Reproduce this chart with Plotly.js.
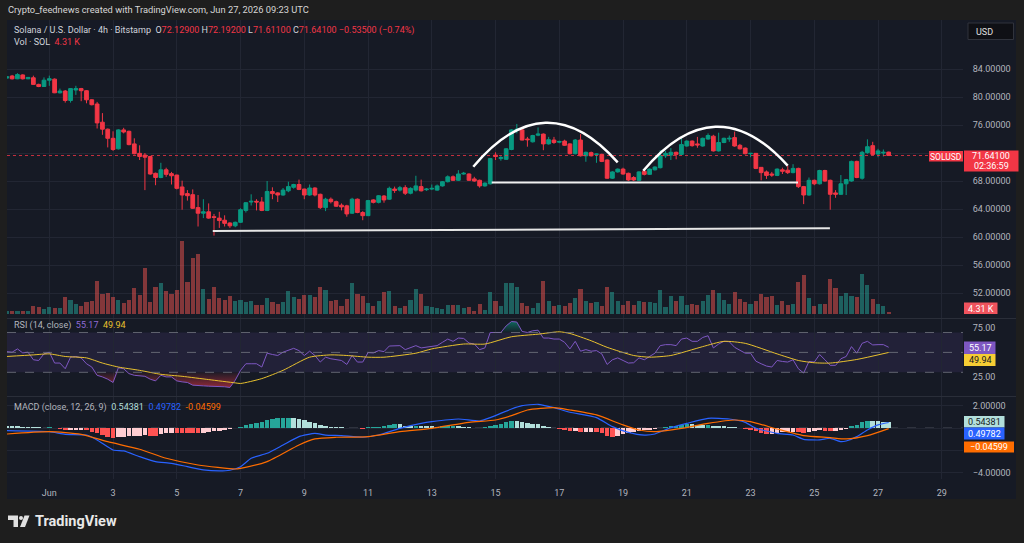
<!DOCTYPE html>
<html>
<head>
<meta charset="utf-8">
<script src="https://cdn.plot.ly/plotly-3.0.1.min.js"></script>
<style>
  html, body { margin: 0; padding: 0; background: #1e1e1e; }
  #chart { width: 1024px; height: 543px; }
</style>
</head>
<body>
<div id="chart"></div>
<script>
// ---- SOLUSD 4h, Bitstamp ------------------------------------------------
const firstBar = '2026-05-30T16:00:00Z';   // open time of the first 4h bar
const barHours = 4;

const opens = [
  82.7, 83.0, 82.6, 83.15, 82.6, 82.75, 81.8, 81.5, 82.4, 82.55,
  80.6, 80.85, 79.5, 81.0, 81.2, 80.9, 79.6, 79.0, 76.4, 75.4,
  74.1, 72.6, 75.3, 75.1, 73.3, 71.95, 71.7, 71.5, 69.1, 68.5,
  69.6, 69.05, 68.85, 67.15, 66.2, 66.05, 64.2, 63.4, 63.6, 62.9,
  62.7, 62.4, 62.0, 61.6, 62.1, 63.8, 65.0, 65.1, 65.0, 63.8,
  66.5, 66.3, 66.0, 66.6, 67.1, 67.5, 66.85, 66.0, 67.0, 66.1,
  64.2, 65.4, 65.05, 64.55, 64.45, 63.4, 65.4, 63.5, 63.05, 65.3,
  64.95, 65.85, 65.4, 66.85, 66.7, 67.05, 66.25, 66.7, 67.2, 66.75,
  66.85, 66.7, 67.3, 67.9, 68.6, 68.1, 69.0, 69.0, 68.3, 68.1,
  67.3, 67.6, 71.7, 71.2, 71.1, 72.5, 75.2, 75.3, 74.0, 73.6,
  74.55, 74.7, 73.3, 73.85, 73.55, 73.7, 73.3, 71.9, 73.85, 71.6,
  72.05, 71.8, 71.8, 71.0, 68.4, 69.3, 69.7, 69.1, 68.5, 68.1,
  69.4, 68.95, 69.6, 69.9, 71.6, 71.7, 72.1, 71.8, 73.0, 73.7,
  73.3, 73.0, 74.0, 74.4, 72.3, 73.5, 74.0, 74.2, 73.1, 72.7,
  71.9, 71.95, 69.95, 69.3, 69.0, 68.8, 69.6, 69.55, 69.2, 69.8,
  67.2, 66.0, 68.1, 67.6, 69.5, 68.1, 66.3, 66.1, 67.6, 68.0,
  70.8, 68.4, 72.05, 73.05, 71.85, 72.0, 72.129
];
const highs = [
  82.95, 83.15, 83.4, 83.25, 82.85, 83.05, 81.9, 82.8, 83.05, 82.65,
  81.2, 81.0, 81.25, 81.6, 81.3, 81.0, 79.7, 79.3, 77.7, 75.5,
  75.1, 75.4, 75.6, 75.2, 74.1, 73.1, 72.0, 71.6, 69.2, 70.6,
  69.9, 69.3, 68.9, 68.05, 66.7, 66.8, 66.0, 65.4, 64.8, 63.3,
  63.6, 63.1, 62.1, 62.2, 64.1, 65.0, 66.1, 65.4, 65.7, 68.0,
  67.1, 66.4, 67.0, 67.9, 67.6, 68.2, 66.9, 67.5, 67.1, 66.2,
  65.6, 65.65, 65.2, 64.8, 64.6, 65.6, 65.5, 63.7, 65.3, 65.4,
  66.0, 66.0, 67.2, 67.2, 67.3, 67.4, 67.1, 68.75, 68.2, 67.0,
  67.5, 67.5, 68.0, 68.8, 68.8, 69.55, 69.3, 69.1, 68.6, 68.2,
  67.8, 71.3, 72.1, 71.6, 72.7, 75.4, 76.15, 75.5, 74.3, 74.6,
  75.65, 74.8, 74.3, 74.3, 73.75, 73.9, 73.4, 74.0, 74.7, 72.2,
  72.2, 71.9, 71.9, 71.1, 69.4, 69.8, 69.9, 69.2, 68.7, 69.4,
  69.6, 69.8, 70.1, 72.4, 72.3, 72.7, 72.2, 74.1, 73.8, 73.8,
  74.3, 74.2, 74.8, 74.6, 74.9, 74.2, 74.5, 75.05, 73.3, 72.8,
  72.0, 72.0, 70.0, 69.5, 69.3, 69.8, 69.9, 70.2, 70.4, 69.9,
  67.3, 68.5, 68.2, 69.6, 69.6, 68.2, 66.7, 68.85, 68.3, 70.9,
  70.9, 72.3, 73.95, 73.6, 72.6, 72.5, 72.192
];
const lows = [
  82.6, 82.5, 82.55, 82.5, 82.55, 81.75, 81.4, 81.45, 81.6, 80.55,
  80.5, 79.2, 79.2, 80.3, 79.4, 79.1, 78.8, 75.5, 74.6, 72.8,
  72.3, 72.5, 74.8, 73.1, 71.8, 71.0, 66.7, 68.9, 67.4, 68.4,
  68.6, 67.5, 66.8, 63.9, 65.2, 64.0, 61.5, 62.7, 62.6, 60.2,
  61.3, 61.5, 61.3, 61.4, 62.0, 63.5, 64.5, 63.8, 63.7, 63.7,
  65.4, 65.0, 65.9, 66.4, 66.9, 66.7, 65.4, 65.9, 65.8, 64.0,
  63.7, 64.8, 64.3, 63.8, 62.9, 63.3, 63.4, 62.4, 63.0, 64.8,
  64.8, 64.9, 65.3, 66.3, 66.5, 66.0, 66.1, 66.5, 66.5, 66.6,
  66.7, 66.6, 67.2, 67.8, 68.0, 68.0, 68.9, 68.0, 67.9, 67.05,
  67.2, 67.5, 71.0, 70.9, 71.0, 72.4, 74.8, 73.8, 72.9, 73.5,
  74.4, 72.4, 73.2, 73.3, 73.4, 73.0, 71.8, 71.8, 71.5, 70.75,
  71.5, 70.6, 70.7, 68.3, 68.3, 69.2, 68.9, 68.0, 68.0, 68.0,
  68.8, 68.9, 69.5, 69.8, 71.3, 71.0, 71.1, 71.7, 72.9, 72.9,
  72.75, 72.9, 73.9, 72.2, 72.2, 73.4, 73.6, 72.9, 72.5, 71.8,
  71.4, 69.7, 68.1, 68.3, 68.6, 68.7, 69.0, 69.0, 69.1, 67.0,
  64.7, 65.9, 67.4, 67.5, 67.9, 63.9, 65.6, 66.0, 66.0, 67.9,
  68.4, 68.2, 71.9, 71.7, 71.4, 71.5, 71.611
];
const closes = [
  82.9, 82.6, 83.2, 82.6, 82.8, 81.8, 81.5, 82.4, 82.6, 80.6,
  80.85, 79.5, 81.2, 81.2, 80.9, 79.6, 78.9, 76.3, 75.4, 74.1,
  72.5, 75.3, 75.0, 73.2, 71.9, 71.5, 71.4, 69.0, 68.5, 69.6,
  68.95, 68.75, 66.95, 66.0, 65.9, 64.1, 63.4, 63.6, 62.7, 62.8,
  62.35, 61.95, 61.6, 62.1, 63.9, 64.9, 65.1, 65.0, 63.8, 66.5,
  66.2, 66.0, 66.7, 67.2, 67.5, 66.8, 66.0, 67.0, 66.0, 64.2,
  65.4, 65.05, 64.4, 64.3, 63.3, 65.4, 63.5, 63.05, 65.2, 64.95,
  65.9, 65.3, 66.95, 66.65, 67.05, 66.25, 66.95, 67.3, 66.6, 66.85,
  66.95, 67.3, 67.9, 68.6, 68.1, 69.0, 69.1, 68.1, 68.0, 67.3,
  67.7, 71.2, 71.5, 71.35, 72.6, 75.3, 75.4, 73.85, 73.9, 74.5,
  74.7, 73.3, 73.9, 73.5, 73.65, 73.1, 71.9, 73.85, 71.6, 72.1,
  71.6, 71.85, 70.8, 68.4, 69.3, 69.7, 69.0, 68.15, 68.15, 69.3,
  68.95, 69.7, 70.0, 71.6, 71.95, 72.1, 71.8, 73.2, 73.7, 73.05,
  73.15, 74.1, 74.5, 72.3, 73.5, 74.1, 74.1, 73.0, 72.6, 71.9,
  71.95, 69.8, 69.2, 68.8, 68.85, 69.7, 69.4, 69.2, 69.8, 67.2,
  66.0, 68.1, 67.6, 69.5, 68.0, 66.1, 66.1, 67.6, 68.2, 70.8,
  68.5, 72.1, 72.9, 71.8, 72.3, 72.1, 71.641
];
// volume in thousands of SOL
const volumesK = [
  6.5, 6.5, 6.5, 6.5, 6.5, 17.3, 14.4, 10.1, 14.4, 13.0,
  13.0, 36.7, 30.2, 20.9, 17.3, 25.9, 27.4, 70.6, 43.9, 45.4,
  36.0, 30.2, 24.5, 30.2, 56.2, 41.0, 99.4, 25.9, 59.0, 67.7,
  49.7, 43.9, 51.1, 158.4, 69.1, 121.7, 128.9, 54.7, 32.4, 57.6,
  33.8, 30.2, 38.2, 27.4, 30.2, 25.9, 27.4, 19.4, 19.4, 35.3,
  25.9, 21.6, 25.9, 49.7, 36.7, 31.7, 41.0, 41.0, 36.7, 57.6,
  51.1, 28.8, 30.2, 16.6, 31.7, 67.7, 42.5, 39.6, 24.5, 17.3,
  27.4, 46.8, 49.7, 17.3, 13.0, 16.6, 30.2, 54.7, 43.9, 17.3,
  14.4, 12.2, 10.8, 20.2, 20.2, 20.2, 12.2, 14.4, 6.5, 21.6,
  9.4, 46.8, 27.4, 16.6, 66.2, 66.2, 59.0, 23.0, 17.3, 13.0,
  23.0, 70.6, 28.8, 16.6, 18.7, 16.6, 23.0, 34.6, 53.3, 28.8,
  24.5, 25.9, 17.3, 59.0, 46.8, 28.8, 20.2, 28.8, 20.2, 28.8,
  25.9, 25.9, 24.5, 51.8, 15.8, 38.9, 27.4, 38.9, 20.2, 21.6,
  18.7, 27.4, 41.0, 51.1, 44.6, 30.2, 21.6, 46.8, 31.7, 25.9,
  21.6, 28.8, 42.5, 36.7, 39.6, 18.7, 27.4, 20.2, 21.6, 69.1,
  84.2, 33.8, 17.3, 21.6, 21.6, 74.9, 55.4, 39.6, 45.4, 38.2,
  36.0, 87.1, 61.9, 33.1, 21.6, 16.6, 4.31
];
// RSI(14) per bar
const rsi = [
  50.8, 50.2, 53.5, 49.5, 50.2, 42.6, 41.9, 48.5, 50.2, 39.3,
  39.3, 33.6, 45.2, 45.9, 44.5, 38.6, 35.3, 27.0, 25.4, 23.1,
  19.8, 34.6, 33.6, 28.7, 27.0, 26.4, 26.0, 23.1, 21.4, 27.0,
  25.4, 25.4, 21.4, 20.4, 19.8, 17.1, 16.4, 16.4, 16.1, 16.1,
  15.8, 15.5, 14.8, 22.1, 32.0, 38.6, 38.6, 38.6, 35.3, 49.2,
  47.9, 46.9, 50.2, 52.5, 54.1, 51.8, 46.9, 51.2, 46.9, 40.3,
  45.2, 43.6, 42.6, 41.9, 37.9, 46.9, 40.3, 40.3, 49.8, 49.5,
  51.8, 50.8, 56.4, 56.4, 56.8, 52.8, 55.1, 56.8, 54.5, 55.1,
  55.8, 56.8, 60.1, 63.4, 61.1, 64.4, 64.0, 59.4, 58.4, 52.8,
  54.5, 70.0, 70.0, 70.0, 76.6, 81.0, 80.5, 71.0, 70.0, 71.7,
  72.3, 64.4, 64.4, 63.4, 63.4, 60.1, 53.5, 61.1, 51.2, 52.8,
  51.2, 51.8, 48.5, 37.9, 42.6, 44.5, 41.9, 39.3, 39.6, 44.5,
  42.6, 45.9, 49.2, 56.8, 57.8, 57.8, 56.8, 63.4, 64.4, 61.1,
  61.1, 65.0, 66.7, 54.5, 58.4, 61.1, 60.7, 55.1, 52.5, 49.2,
  49.2, 41.2, 38.6, 36.3, 35.3, 41.9, 40.9, 40.3, 42.6, 33.6,
  29.3, 40.9, 40.3, 47.9, 42.6, 37.0, 37.0, 43.6, 45.9, 55.8,
  49.2, 59.1, 61.1, 57.5, 57.8, 57.8, 55.17
];
// RSI-based moving average, read at these bar indices
const rsiMaBar = [0, 5, 8, 11, 15, 18, 21, 25, 29, 33, 38, 43, 44, 48, 52, 57, 61, 64, 68, 71,
  77, 80, 86, 90, 95, 100, 104, 106, 110, 113, 118, 121, 125, 131, 135, 139, 145, 149, 152, 155, 160, 166];
const rsiMa = [45.9, 47.5, 48.5, 45.9, 44.5, 39.3, 35.3, 32.0, 28.0, 26.0, 22.7, 19.4, 18.8, 23.7, 32.0, 45.2, 47.5, 46.9, 45.2, 45.2,
  49.2, 53.5, 58.4, 58.4, 65.7, 68.3, 70.7, 69.0, 61.7, 55.1, 46.9, 45.2, 46.9, 55.8, 61.1, 59.1, 48.5, 41.9, 39.6, 39.3, 42.9, 49.94];
// MACD(12, 26, 9)
const macdBar = [0, 8, 11, 15, 17, 20, 22, 25, 28, 31, 34, 37, 40, 42, 44, 46, 49, 52, 55, 58,
  60, 63, 67, 70, 74, 78, 80, 85, 89, 91, 95, 97, 100, 103, 106, 111, 114, 117, 120, 122,
  125, 128, 132, 136, 139, 141, 145, 148, 150, 153, 155, 157, 158, 160, 162, 164, 166];
const macd = [-0.23, -0.32, -0.56, -0.62, -1.06, -1.95, -2.04, -2.55, -2.99, -3.14, -3.44, -3.73, -3.82, -3.76, -3.44, -2.69, -2.25, -1.51, -0.76, -0.47,
  -0.62, -0.67, -0.82, -0.62, -0.02, 0.42, 0.57, 0.81, 0.63, 0.93, 1.70, 2.0, 2.12, 1.82, 1.41, 0.93, 0.13, -0.38, -0.62, -0.53,
  0.04, 0.42, 0.87, 0.81, 0.51, -0.02, -0.47, -0.62, -1.0, -1.06, -0.91, -1.21, -1.15, -0.76, -0.17, 0.28, 0.49782];
const signalBar = [0, 8, 14, 19, 25, 30, 36, 43, 44, 49, 55, 58, 62, 68, 74, 80, 87, 92, 95, 98,
  103, 106, 111, 116, 119, 122, 127, 132, 137, 140, 145, 150, 155, 158, 162, 166];
const signal = [-0.53, -0.32, -0.56, -1.21, -1.89, -2.69, -3.29, -3.65, -3.59, -2.99, -1.51, -0.97, -0.82, -0.76, -0.32, -0.02, 0.51, 0.72, 1.11, 1.61,
  1.82, 1.61, 1.17, 0.28, -0.17, -0.32, -0.02, 0.42, 0.72, 0.57, -0.08, -0.67, -0.85, -0.97, -0.67, -0.04599];
const hist = [
  0.22, 0.19, 0.16, 0.13, 0.10, 0.07, 0.07, 0.04, 0.07, -0.02,
  -0.11, -0.20, -0.17, -0.14, -0.14, -0.20, -0.32, -0.47, -0.61, -0.77,
  -0.85, -0.77, -0.77, -0.74, -0.70, -0.67, -0.64, -0.70, -0.71, -0.56,
  -0.47, -0.41, -0.42, -0.44, -0.45, -0.46, -0.47, -0.40, -0.33, -0.27,
  -0.23, -0.17, -0.11, -0.02, 0.13, 0.31, 0.40, 0.46, 0.52, 0.72,
  0.81, 0.87, 0.88, 0.90, 0.87, 0.81, 0.72, 0.57, 0.42, 0.28,
  0.19, 0.13, 0.10, 0.07, -0.02, 0.01, -0.03, -0.05, 0.07, 0.10,
  0.13, 0.16, 0.28, 0.34, 0.34, 0.22, 0.19, 0.22, 0.19, 0.19,
  0.16, 0.13, 0.16, 0.19, 0.22, 0.16, 0.13, 0.07, 0.04, -0.02,
  0.13, 0.22, 0.25, 0.34, 0.52, 0.63, 0.63, 0.57, 0.45, 0.40,
  0.34, 0.22, 0.10, 0.04, -0.08, -0.14, -0.23, -0.23, -0.32, -0.32,
  -0.32, -0.38, -0.47, -0.73, -0.77, -0.67, -0.56, -0.47, -0.35, -0.26,
  -0.20, -0.17, -0.11, -0.02, 0.10, 0.19, 0.22, 0.31, 0.37, 0.34,
  0.28, 0.28, 0.31, 0.22, 0.19, 0.19, 0.13, 0.07, -0.02, -0.08,
  -0.20, -0.26, -0.47, -0.56, -0.56, -0.47, -0.38, -0.38, -0.32, -0.38,
  -0.41, -0.32, -0.23, -0.20, -0.26, -0.29, -0.26, -0.20, -0.11, 0.22,
  0.28, 0.52, 0.63, 0.63, 0.60, 0.57, 0.54381
];
const dateTicks = ['2026-06-01', '2026-06-03', '2026-06-05', '2026-06-07', '2026-06-09', '2026-06-11', '2026-06-13',
  '2026-06-15', '2026-06-17', '2026-06-19', '2026-06-21', '2026-06-23', '2026-06-25', '2026-06-27', '2026-06-29'];
const dateLabels = ['Jun', '3', '5', '7', '9', '11', '13', '15', '17', '19', '21', '23', '25', '27', '29'];
const priceTicks = [52, 56, 60, 64, 68, 72, 76, 80, 84];
const macdTicks = [2, 0, -2, -4];

// hand-drawn pattern: support, neckline and the two rounded tops
const supportLine = { t0: '2026-06-06 03:05', p0: 60.86, t1: '2026-06-25 11:46', p1: 61.24 };
const neckLine = { t0: '2026-06-14 21:07', p0: 67.78, t1: '2026-06-24 11:44', p1: 67.8 };
const arcs = [
  [['2026-06-14T07:15:00Z', 70.04], ['2026-06-16T13:36:00Z', 82.3], ['2026-06-18T19:58:00Z', 70.67]],
  [['2026-06-19T15:14:00Z', 69.47], ['2026-06-21T21:36:00Z', 81.69], ['2026-06-24T03:58:00Z', 70.19]]
];

// ---- styling ----
const FONT = 'Roboto, "Noto Sans", "DejaVu Sans", sans-serif';
const FRAME = '#1e1e1e', PANEL = '#161a25', GRID = '#222633', SEP = '#2a2e39';
const TXT = '#d1d4dc', AXT = '#b2b5be';
const UP = '#089981', DOWN = '#f23645';
const W = 1024, H = 543;
const px = x => x / W;
const py = y => 1 - y / H;

const STEP = barHours * 3600 * 1000;
const t0ms = Date.parse(firstBar);
const fmt = ms => new Date(ms).toISOString().slice(0, 19).replace('T', ' ');
const times = opens.map((_, i) => fmt(t0ms + i * STEP));
const atBars = idx => idx.map(i => times[i]);

const volColors = closes.map((c, i) => c >= opens[i] ? 'rgba(38,166,154,0.5)' : 'rgba(239,83,80,0.5)');
const histColors = hist.map((v, i) => {
  const p = i ? hist[i - 1] : v;
  if (v >= 0) return v > p ? '#26a69a' : '#b2dfdb';
  return v < p ? '#ff5252' : '#ffcdd2';
});

const traces = [
  { type: 'bar', x: times, y: volumesK, xaxis: 'x', yaxis: 'y2', width: STEP * 0.78,
    marker: { color: volColors, line: { width: 0 } }, hoverinfo: 'skip' },
  { type: 'candlestick', x: times, open: opens, high: highs, low: lows, close: closes,
    xaxis: 'x', yaxis: 'y', hoverinfo: 'skip', whiskerwidth: 0,
    increasing: { line: { color: UP, width: 1 }, fillcolor: UP },
    decreasing: { line: { color: DOWN, width: 1 }, fillcolor: DOWN } },
  // RSI oversold shading
  { type: 'scatter', mode: 'lines', x: times, y: rsi.map(() => 30), xaxis: 'x', yaxis: 'y3',
    line: { width: 0 }, hoverinfo: 'skip' },
  { type: 'scatter', mode: 'lines', x: times, y: rsi.map(v => Math.min(v, 30)), xaxis: 'x', yaxis: 'y3',
    line: { width: 0 }, fill: 'tonexty',
    fillgradient: { type: 'vertical', colorscale: [[0, 'rgba(242,54,69,0.55)'], [1, 'rgba(242,54,69,0.04)']] },
    hoverinfo: 'skip' },
  // RSI overbought shading
  { type: 'scatter', mode: 'lines', x: times, y: rsi.map(() => 70), xaxis: 'x', yaxis: 'y3',
    line: { width: 0 }, hoverinfo: 'skip' },
  { type: 'scatter', mode: 'lines', x: times, y: rsi.map(v => Math.max(v, 70)), xaxis: 'x', yaxis: 'y3',
    line: { width: 0 }, fill: 'tonexty',
    fillgradient: { type: 'vertical', colorscale: [[0, 'rgba(8,153,129,0.04)'], [1, 'rgba(8,153,129,0.6)']] },
    hoverinfo: 'skip' },
  { type: 'scatter', mode: 'lines', x: times, y: rsi, xaxis: 'x', yaxis: 'y3',
    line: { color: '#7e57c2', width: 1 }, hoverinfo: 'skip' },
  { type: 'scatter', mode: 'lines', x: atBars(rsiMaBar), y: rsiMa, xaxis: 'x', yaxis: 'y3',
    line: { color: '#e8c12e', width: 1, shape: 'spline', smoothing: 0.6 }, hoverinfo: 'skip' },
  // MACD
  { type: 'bar', x: times, y: hist, xaxis: 'x', yaxis: 'y4', width: STEP * 0.86,
    marker: { color: histColors, line: { width: 0 } }, hoverinfo: 'skip' },
  { type: 'scatter', mode: 'lines', x: atBars(macdBar), y: macd, xaxis: 'x', yaxis: 'y4',
    line: { color: '#2962ff', width: 1.2, shape: 'spline', smoothing: 0.5 }, hoverinfo: 'skip' },
  { type: 'scatter', mode: 'lines', x: atBars(signalBar), y: signal, xaxis: 'x', yaxis: 'y4',
    line: { color: '#ff6d00', width: 1.2, shape: 'spline', smoothing: 0.6 }, hoverinfo: 'skip' }
];

const lastClose = closes[closes.length - 1];
const lastVol = volumesK[volumesK.length - 1];
const ms = s => Date.parse(s);

const shapes = [
  // chart canvas
  { type: 'rect', xref: 'paper', yref: 'paper', x0: px(7), x1: px(1016), y0: py(499), y1: py(20),
    fillcolor: PANEL, line: { width: 0 }, layer: 'below' },
  // pane separators
  { type: 'line', xref: 'paper', yref: 'paper', x0: px(7), x1: px(1016), y0: py(318.5), y1: py(318.5), line: { color: SEP, width: 1 } },
  { type: 'line', xref: 'paper', yref: 'paper', x0: px(7), x1: px(1016), y0: py(396.5), y1: py(396.5), line: { color: SEP, width: 1 } },
  // RSI band and levels
  { type: 'rect', xref: 'paper', yref: 'y3', x0: px(7), x1: px(963), y0: 30, y1: 70,
    fillcolor: 'rgba(126,87,194,0.12)', line: { width: 0 }, layer: 'below' },
  ...[70, 50, 30].map(v => ({ type: 'line', xref: 'paper', yref: 'y3', x0: px(7), x1: px(963), y0: v, y1: v,
    line: { color: 'rgba(120,123,134,0.75)', width: 1, dash: 'dash' } })),
  // MACD zero line
  { type: 'line', xref: 'paper', yref: 'y4', x0: px(7), x1: px(963), y0: 0, y1: 0,
    line: { color: 'rgba(120,123,134,0.6)', width: 1, dash: 'dash' }, layer: 'below' },
  // last price line
  { type: 'line', xref: 'paper', yref: 'y', x0: px(7), x1: px(963), y0: lastClose, y1: lastClose,
    line: { color: 'rgba(242,54,69,0.8)', width: 1, dash: 'dot' } },
  // drawings
  { type: 'line', xref: 'x', yref: 'y', x0: supportLine.t0, y0: supportLine.p0, x1: supportLine.t1, y1: supportLine.p1,
    line: { color: '#e6e6e6', width: 2 } },
  { type: 'line', xref: 'x', yref: 'y', x0: neckLine.t0, y0: neckLine.p0, x1: neckLine.t1, y1: neckLine.p1,
    line: { color: '#f0f0f0', width: 2 } },
  ...arcs.map(a => ({ type: 'path', xref: 'x', yref: 'y',
    path: `M ${ms(a[0][0])},${a[0][1]} Q ${ms(a[1][0])},${a[1][1]} ${ms(a[2][0])},${a[2][1]}`,
    line: { color: '#ffffff', width: 2.5 } })),
  // USD button
  { type: 'rect', xref: 'paper', yref: 'paper', x0: px(968), x1: px(1013.5), y0: py(39.5), y1: py(23),
    fillcolor: '#0f1015', line: { color: '#30333c', width: 1 } },
  // price scale tags
  { type: 'rect', xref: 'paper', yref: 'paper', x0: px(929), x1: px(963), y0: py(161.5), y1: py(151),
    fillcolor: DOWN, line: { width: 0 } },
  { type: 'rect', xref: 'paper', yref: 'paper', x0: px(964), x1: px(1018.5), y0: py(171.5), y1: py(150.5),
    fillcolor: DOWN, line: { width: 0 } },
  { type: 'rect', xref: 'paper', yref: 'paper', x0: px(964), x1: px(997.5), y0: py(314), y1: py(302.5),
    fillcolor: '#f0535d', line: { width: 0 } },
  { type: 'rect', xref: 'paper', yref: 'paper', x0: px(964), x1: px(995.5), y0: py(354), y1: py(341.5),
    fillcolor: '#7e57c2', line: { width: 0 } },
  { type: 'rect', xref: 'paper', yref: 'paper', x0: px(964), x1: px(995.5), y0: py(366), y1: py(354),
    fillcolor: '#f6cd34', line: { width: 0 } },
  { type: 'rect', xref: 'paper', yref: 'paper', x0: px(964), x1: px(1004.5), y0: py(427.5), y1: py(416),
    fillcolor: '#b2dfdb', line: { width: 0 } },
  { type: 'rect', xref: 'paper', yref: 'paper', x0: px(964), x1: px(1004.5), y0: py(439.5), y1: py(427.5),
    fillcolor: '#2962ff', line: { width: 0 } },
  { type: 'rect', xref: 'paper', yref: 'paper', x0: px(964), x1: px(1014), y0: py(452.5), y1: py(441.5),
    fillcolor: '#ff6d00', line: { width: 0 } },
  // TradingView mark
  { type: 'path', xref: 'paper', yref: 'paper',
    path: `M ${px(8)},${py(515.5)} L ${px(18)},${py(515.5)} L ${px(18)},${py(527)} L ${px(13.5)},${py(527)} L ${px(13.5)},${py(520)} L ${px(8)},${py(520)} Z`,
    fillcolor: '#e0e0e0', line: { width: 0 } },
  { type: 'circle', xref: 'paper', yref: 'paper', x0: px(19), x1: px(23), y0: py(520), y1: py(516),
    fillcolor: '#e0e0e0', line: { width: 0 } },
  { type: 'path', xref: 'paper', yref: 'paper',
    path: `M ${px(24.5)},${py(515.5)} L ${px(29.5)},${py(515.5)} L ${px(25)},${py(527)} L ${px(20)},${py(527)} Z`,
    fillcolor: '#e0e0e0', line: { width: 0 } }
];

const ann = (text, x, y, o = {}) => Object.assign({
  text, xref: 'paper', yref: 'paper', x: px(x), y: py(y), showarrow: false,
  xanchor: 'left', yanchor: 'middle', font: { family: FONT, size: 9, color: TXT }
}, o);
const red = s => `<span style="color:${DOWN}">${s}</span>`;

const annotations = [
  ann('Crypto_feednews created with TradingView.com, Jun 27, 2026 09:23 UTC', 6, 10,
    { font: { family: FONT, size: 9.3, color: '#d6d6d6' } }),
  ann(`Solana / U.S. Dollar · 4h · Bitstamp  O${red(opens[166].toFixed(5))} H${red(highs[166].toFixed(5))} ` +
      `L${red(lows[166].toFixed(5))} C${red(lastClose.toFixed(5))} ${red('−0.53500 (−0.74%)')}`, 12, 30.5,
    { font: { family: FONT, size: 9, color: TXT } }),
  ann(`Vol · SOL  ${red(lastVol.toFixed(2) + ' K')}`, 12, 42.5, { font: { family: FONT, size: 9, color: TXT } }),
  ann('USD', 974, 31.5, { font: { family: FONT, size: 9, color: '#e0e0e0' } }),
  ann('SOLUSD', 946, 156.5, { xanchor: 'center', font: { family: FONT, size: 8.5, color: '#ffffff' } }),
  ann(lastClose.toFixed(5), 991, 156, { xanchor: 'center', font: { family: FONT, size: 9, color: '#ffffff' } }),
  ann('02:36:59', 991, 166, { xanchor: 'center', font: { family: FONT, size: 9, color: '#ffffff' } }),
  ann(lastVol.toFixed(2) + ' K', 980.5, 308.5, { xanchor: 'center', font: { family: FONT, size: 9, color: '#ffffff' } }),
  ann(`RSI (14, close)  <span style="color:#8f6bd6">${rsi[166].toFixed(2)}</span>  <span style="color:#e8c12e">${rsiMa[rsiMa.length - 1].toFixed(2)}</span>`,
    12, 325.5, { font: { family: FONT, size: 9, color: AXT } }),
  ann(rsi[166].toFixed(2), 980, 348, { xanchor: 'center', font: { family: FONT, size: 9, color: '#ffffff' } }),
  ann(rsiMa[rsiMa.length - 1].toFixed(2), 980, 360.3, { xanchor: 'center', font: { family: FONT, size: 9, color: '#131722' } }),
  ann(`MACD (close, 12, 26, 9)  <span style="color:#b2dfdb">${hist[166].toFixed(5)}</span>  ` +
      `<span style="color:#2962ff">${macd[macd.length - 1].toFixed(5)}</span>  <span style="color:#ff6d00">${signal[signal.length - 1].toFixed(5)}</span>`,
    12, 407.5, { font: { family: FONT, size: 9, color: AXT } }),
  ann(hist[166].toFixed(5), 984, 422, { xanchor: 'center', font: { family: FONT, size: 9, color: '#131722' } }),
  ann(macd[macd.length - 1].toFixed(5), 984, 434, { xanchor: 'center', font: { family: FONT, size: 9, color: '#ffffff' } }),
  ann('−' + Math.abs(signal[signal.length - 1]).toFixed(5), 989, 447, { xanchor: 'center', font: { family: FONT, size: 9, color: '#ffffff' } }),
  ann('<b>TradingView</b>', 33, 521.5, { font: { family: FONT, size: 14.5, color: '#e8e8e8' } })
];

const fmtP = v => (v < 0 ? '−' : '') + Math.abs(v).toFixed(5);
// scale labels that sit under the value tags are left blank (grid line kept)
const priceText = priceTicks.map(v => v === 72 ? '' : fmtP(v));
const macdText = macdTicks.map(v => (v === 0 || v === -2) ? '' : fmtP(v));

const layout = {
  width: W, height: H, margin: { l: 0, r: 0, t: 0, b: 0 },
  paper_bgcolor: FRAME, plot_bgcolor: 'rgba(0,0,0,0)',
  showlegend: false, dragmode: false, hovermode: false,
  boxgap: 0.3, boxgroupgap: 0, bargap: 0,
  font: { family: FONT, size: 9, color: AXT },
  xaxis: {
    type: 'date', domain: [px(7), px(963)], range: ['2026-05-30 16:09', '2026-06-29 15:58'],
    anchor: 'y4', rangeslider: { visible: false },
    tickmode: 'array', tickvals: dateTicks, ticktext: dateLabels,
    showgrid: true, gridcolor: GRID, gridwidth: 1, zeroline: false, showline: false,
    ticks: 'outside', ticklen: 5, tickcolor: 'rgba(0,0,0,0)',
    tickfont: { family: FONT, size: 9, color: AXT }, fixedrange: true
  },
  yaxis: {
    domain: [py(318), py(20)], range: [48.43, 91], side: 'right', anchor: 'x',
    tickmode: 'array', tickvals: priceTicks, ticktext: priceText,
    showgrid: true, gridcolor: GRID, zeroline: false, showline: false,
    ticks: 'outside', ticklen: 7, tickcolor: 'rgba(0,0,0,0)',
    tickfont: { family: FONT, size: 9, color: AXT }, fixedrange: true
  },
  yaxis2: { overlaying: 'y', anchor: 'x', range: [-8.64, 635], visible: false, fixedrange: true },
  yaxis3: {
    domain: [py(396), py(319)], range: [6.23, 83.53], side: 'right', anchor: 'x',
    tickmode: 'array', tickvals: [25, 75], ticktext: ['25.00', '75.00'],
    showgrid: false, zeroline: false, showline: false,
    ticks: 'outside', ticklen: 7, tickcolor: 'rgba(0,0,0,0)',
    tickfont: { family: FONT, size: 9, color: AXT }, fixedrange: true
  },
  yaxis4: {
    domain: [py(479), py(397)], range: [-4.54, 2.77], side: 'right', anchor: 'x',
    tickmode: 'array', tickvals: macdTicks, ticktext: macdText,
    showgrid: true, gridcolor: GRID, zeroline: false, showline: false,
    ticks: 'outside', ticklen: 7, tickcolor: 'rgba(0,0,0,0)',
    tickfont: { family: FONT, size: 9, color: AXT }, fixedrange: true
  },
  shapes, annotations
};

Plotly.newPlot('chart', traces, layout, { displayModeBar: false, staticPlot: true });
</script>
</body>
</html>
